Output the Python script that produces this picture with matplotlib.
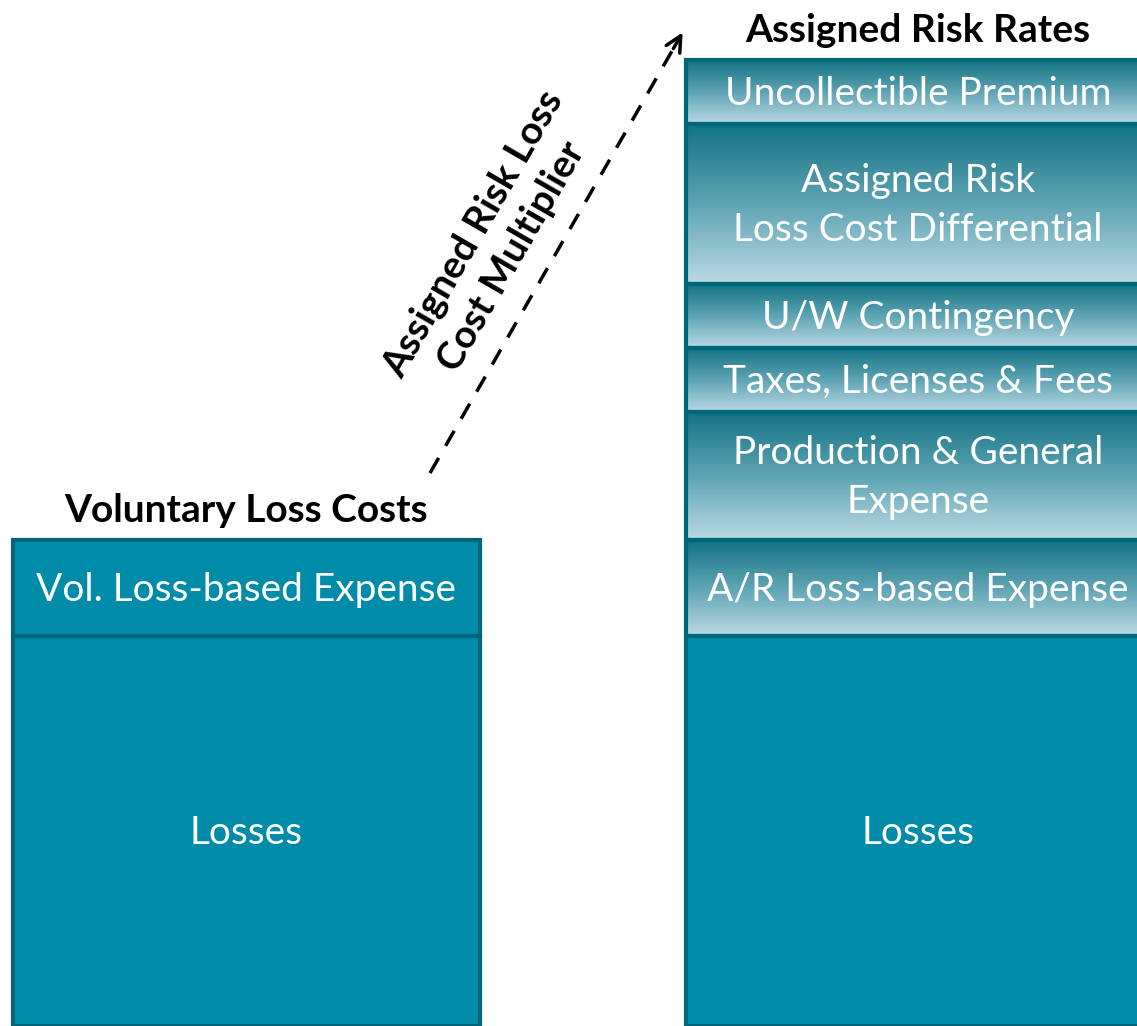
import matplotlib
matplotlib.use('Agg')
import matplotlib.pyplot as plt
import numpy as np
from matplotlib.colors import LinearSegmentedColormap
from matplotlib.patches import Rectangle

# segment heights (relative units), bottom to top
vol_labels = ["Losses", "Vol. Loss-based Expense"]
vol_values = [12.2, 3]
ar_labels = ["Losses", "A/R Loss-based Expense", "Production & General\nExpense",
             "Taxes, Licenses & Fees", "U/W Contingency",
             "Assigned Risk\nLoss Cost Differential", "Uncollectible Premium"]
ar_values = [12.2, 3, 4, 2, 2, 5, 2]
ar_gradient = [False, True, True, True, True, True, True]

plt.rcParams['font.family'] = ['Lato', 'DejaVu Sans']

SCALE = 32  # px per unit
fill = '#008ba8'
edge = '#00677a'
grad_cmap = LinearSegmentedColormap.from_list('g', ['#bcdae4', '#5fa4b4', '#137382'])

fig = plt.figure(figsize=(11.37, 10.26), dpi=100)
ax = fig.add_axes([0, 0, 1, 1])
ax.set_xlim(0, 1137)
ax.set_ylim(0, 1026)
ax.axis('off')


def draw_stack(x0, width, labels, values, grads, tx):
    bottom = 0
    for lab, v, g in zip(labels, values, grads):
        h = v * SCALE
        if g:
            grad = np.linspace(0, 1, 256).reshape(-1, 1)
            ax.imshow(grad, cmap=grad_cmap, aspect='auto', origin='lower',
                      extent=[x0, x0 + width, bottom, bottom + h], zorder=1)
            ax.add_patch(Rectangle((x0, bottom), width, h, facecolor='none',
                                   edgecolor=edge, lw=3, zorder=2))
        else:
            ax.add_patch(Rectangle((x0, bottom), width, h, facecolor=fill,
                                   edgecolor=edge, lw=3, zorder=2))
        ax.text(tx, bottom + h / 2 - 2, lab, color='white', fontsize=28,
                ha='center', va='center', linespacing=1.45, zorder=3)
        bottom += h
    return bottom


top_l = draw_stack(13, 467, vol_labels, vol_values, [False, False], 246)
top_r = draw_stack(686, 480, ar_labels, ar_values, ar_gradient, 918)

ax.text(246, top_l + 12, "Voluntary Loss Costs", fontsize=28, fontweight='bold',
        ha='center', va='bottom')
ax.text(918, top_r + 12, "Assigned Risk Rates", fontsize=28, fontweight='bold',
        ha='center', va='bottom')

# dashed multiplier arrow
x_start, y_start = 430, 1026 - 473
x_end, y_end = 684, 1026 - 30
ax.plot([x_start, x_end - 4], [y_start, y_end - 7], color='black', lw=2.5,
        linestyle=(0, (5, 4)))
ax.annotate('', xy=(x_end, y_end), xytext=(x_end - 12, y_end - 21),
            arrowprops=dict(arrowstyle='->', lw=2.5, color='black',
                            mutation_scale=28))
ax.text(492, 1026 - 245, "Assigned Risk Loss\nCost Multiplier", fontsize=28,
        fontweight='bold', rotation=60, ha='center', va='center',
        rotation_mode='anchor', linespacing=1.3)

fig.savefig('out.png', dpi=100)
